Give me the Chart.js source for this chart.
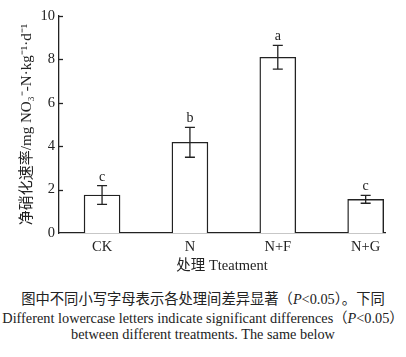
<!DOCTYPE html>
<html><head><meta charset="utf-8">
<script src="https://cdn.jsdelivr.net/npm/chart.js@4/dist/chart.umd.min.js"></script>
<style>
html,body{margin:0;padding:0;background:#fff;}
#wrap{position:relative;width:406px;height:357px;overflow:hidden;}
#cv{position:absolute;left:0;top:0;}
.cap{position:absolute;left:0;width:406px;text-align:center;color:#222;white-space:nowrap;line-height:16px;font-family:"Liberation Serif","Noto Sans CJK SC",serif;}
</style></head>
<body><div id="wrap">
<canvas id="cv" width="406" height="275"></canvas>
<div class="cap" id="c1" style="top:290px;font-size:14.3px;font-family:'Noto Sans CJK SC','Liberation Serif',serif;">图中不同小写字母表示各处理间差异显著（<i style="font-family:'Liberation Serif'">P</i><span style="font-family:'Liberation Serif'">&lt;0.05</span>）。下同</div>
<div class="cap" id="c2" style="top:310px;font-size:14.3px;">Different lowercase letters indicate significant differences（<i>P</i>&lt;0.05）</div>
<div class="cap" id="c3" style="top:326px;font-size:14.3px;">between different treatments. The same below</div>
</div>
<script>
const categories = ["CK", "N", "N+F", "N+G"];
const rates = [1.75, 4.18, 8.10, 1.55];
const errors = [0.43, 0.69, 0.55, 0.18];
const letters = ["c", "b", "a", "c"];
const yTicks = [0, 2, 4, 6, 8, 10];

const INK = "#222";
const SERIF = "'Liberation Serif','Noto Sans CJK SC',serif";

const extras = {
  id: "extras",
  afterDatasetsDraw(chart) {
    const ctx = chart.ctx, x = chart.scales.x, y = chart.scales.y;
    ctx.save();
    ctx.strokeStyle = INK; ctx.lineWidth = 1.3; ctx.fillStyle = INK;
    yTicks.forEach(v => {
      if (v === 0) return;
      const py = Math.round(y.getPixelForValue(v)) + 0.5;
      ctx.beginPath(); ctx.moveTo(x.left, py); ctx.lineTo(x.left + 4, py); ctx.stroke();
    });
    ctx.font = "14px " + SERIF; ctx.textAlign = "center"; ctx.textBaseline = "alphabetic";
    rates.forEach((v, i) => {
      const px = x.getPixelForValue(i + 1);
      const top = y.getPixelForValue(v + errors[i]);
      const bot = y.getPixelForValue(v - errors[i]);
      ctx.beginPath();
      ctx.moveTo(px, top); ctx.lineTo(px, bot);
      ctx.moveTo(px - 5, top); ctx.lineTo(px + 5, top);
      ctx.moveTo(px - 5, bot); ctx.lineTo(px + 5, bot);
      ctx.stroke();
      ctx.fillText(letters[i], px, top - 5);
    });
    ctx.save();
    ctx.translate(27, (y.top + y.bottom) / 2);
    ctx.rotate(-Math.PI / 2);
    ctx.font = "15px " + SERIF; ctx.textBaseline = "middle";
    ctx.fillText("净硝化速率/mg NO₃⁻-N·kg⁻¹·d⁻¹", 0, 0);
    ctx.restore();
    ctx.restore();
  }
};

new Chart(document.getElementById("cv"), {
  type: "bar",
  data: {
    datasets: [{
      data: rates.map((v, i) => ({ x: i + 1, y: v })),
      backgroundColor: "#ffffff",
      borderColor: INK,
      borderWidth: 1.4,
      borderSkipped: "bottom",
      barThickness: 36
    }]
  },
  plugins: [extras],
  options: {
    responsive: false,
    animation: false,
    devicePixelRatio: 1,
    layout: { padding: { top: 16, right: 21, left: 0, bottom: 0 } },
    plugins: { legend: { display: false }, tooltip: { enabled: false } },
    scales: {
      x: {
        type: "linear", min: 0.51, max: 4.22, offset: false,
        afterBuildTicks: s => { s.ticks = categories.map((c, i) => ({ value: i + 1 })); },
        afterFit: s => { s.height = 42; },
        grid: { display: false, drawTicks: false, offset: false },
        border: { display: true, color: INK, width: 1.3 },
        ticks: { padding: 5, color: INK, font: { family: SERIF, size: 14.5 }, callback: (v) => categories[v - 1], maxRotation: 0, autoSkip: false },
        title: { display: true, text: "处理 Tteatment", color: INK, font: { family: SERIF, size: 14.5 }, padding: { top: 0, bottom: 0 } }
      },
      y: {
        min: 0, max: 10,
        afterBuildTicks: s => { s.ticks = yTicks.map(v => ({ value: v })); },
        afterFit: s => { s.width = 59; },
        grid: { display: false, drawTicks: false },
        border: { display: true, color: INK, width: 1.3 },
        ticks: { padding: 4, color: INK, font: { family: SERIF, size: 14.5 } }
      }
    }
  }
});
</script>
</body></html>
